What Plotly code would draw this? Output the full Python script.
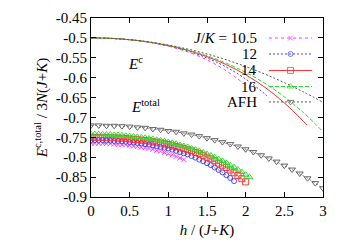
import plotly.graph_objects as go

# ---------------- data ----------------
SERIES = ["10.5", "12", "14", "16", "AFH"]

# E^c curves (lines)
EC_H = {
    "10.5": [0, 0.25, 0.5, 0.75, 1.0, 1.25, 1.5, 1.75, 1.95],
    "12":   [0, 0.25, 0.5, 0.75, 1.0, 1.25, 1.5, 1.75, 2.0, 2.25, 2.3],
    "14":   [0, 0.25, 0.5, 0.75, 1.0, 1.25, 1.5, 1.75, 2.0, 2.25, 2.5, 2.75, 2.79],
    "16":   [0, 0.25, 0.5, 0.75, 1.0, 1.25, 1.5, 1.75, 2.0, 2.25, 2.5, 2.75, 3.0],
    "AFH":  [0, 0.25, 0.5, 0.75, 1.0, 1.25, 1.5, 1.75, 2.0, 2.25, 2.5, 2.75, 3.0],
}
EC_E = {
    "10.5": [-0.5, -0.5011, -0.5047, -0.5111, -0.5209, -0.5353, -0.5554, -0.5827, -0.6110],
    "12":   [-0.5, -0.5011, -0.5046, -0.5107, -0.5200, -0.5329, -0.5504, -0.5735, -0.6034, -0.6414, -0.6501],
    "14":   [-0.5, -0.5011, -0.5046, -0.5105, -0.5193, -0.5313, -0.5471, -0.5673, -0.5928, -0.6244, -0.6633, -0.7105, -0.7189],
    "16":   [-0.5, -0.5011, -0.5046, -0.5104, -0.5189, -0.5304, -0.5451, -0.5637, -0.5866, -0.6146, -0.6482, -0.6884, -0.7360],
    "AFH":  [-0.5, -0.5011, -0.5045, -0.5101, -0.5180, -0.5281, -0.5405, -0.5551, -0.5720, -0.5911, -0.6125, -0.6361, -0.6620],
}

# E^total points (markers)
ET_H = {
    "10.5": [0, 0.05, 0.1, 0.15, 0.2, 0.25, 0.3, 0.35, 0.4, 0.45, 0.5, 0.55, 0.6, 0.65, 0.7,
             0.75, 0.8, 0.85, 0.9, 0.95, 1.0, 1.05, 1.1, 1.15, 1.2],
    "12":   [0, 0.05, 0.1, 0.15, 0.2, 0.25, 0.3, 0.35, 0.4, 0.45, 0.5, 0.55, 0.6, 0.65, 0.7,
             0.75, 0.8, 0.85, 0.9, 0.95, 1.0, 1.05, 1.1, 1.15, 1.2, 1.25, 1.3, 1.35, 1.4,
             1.45, 1.5, 1.55, 1.6, 1.65, 1.7, 1.75, 1.8, 1.85],
    "14":   [0, 0.05, 0.1, 0.15, 0.2, 0.25, 0.3, 0.35, 0.4, 0.45, 0.5, 0.55, 0.6, 0.65, 0.7,
             0.75, 0.8, 0.85, 0.9, 0.95, 1.0, 1.05, 1.1, 1.15, 1.2, 1.25, 1.3, 1.35, 1.4,
             1.45, 1.5, 1.55, 1.6, 1.65, 1.7, 1.75, 1.8, 1.85, 1.9, 1.95, 2.0],
    "16":   [0, 0.05, 0.1, 0.15, 0.2, 0.25, 0.3, 0.35, 0.4, 0.45, 0.5, 0.55, 0.6, 0.65, 0.7,
             0.75, 0.8, 0.85, 0.9, 0.95, 1.0, 1.05, 1.1, 1.15, 1.2, 1.25, 1.3, 1.35, 1.4,
             1.45, 1.5, 1.55, 1.6, 1.65, 1.7, 1.75, 1.8, 1.85, 1.9, 1.95, 2.0, 2.05],
    "AFH":  [0, 0.1, 0.2, 0.3, 0.4, 0.5, 0.6, 0.7, 0.8, 0.9, 1.0, 1.1, 1.2, 1.3, 1.4, 1.5,
             1.6, 1.7, 1.8, 1.9, 2.0, 2.1, 2.2, 2.3, 2.4, 2.5, 2.6, 2.7, 2.8, 2.9, 3.0],
}
ET_E = {
    "10.5": [-0.765, -0.765, -0.765, -0.765, -0.766, -0.766, -0.767, -0.768, -0.768, -0.769,
             -0.770, -0.772, -0.773, -0.775, -0.776, -0.778, -0.780, -0.783, -0.785, -0.788,
             -0.791, -0.794, -0.798, -0.802, -0.806],
    "12":   [-0.757, -0.757, -0.757, -0.757, -0.758, -0.758, -0.759, -0.759, -0.760, -0.761,
             -0.762, -0.763, -0.764, -0.765, -0.767, -0.768, -0.770, -0.772, -0.774, -0.776,
             -0.778, -0.781, -0.784, -0.787, -0.790, -0.793, -0.797, -0.801, -0.806, -0.810,
             -0.815, -0.820, -0.826, -0.832, -0.838, -0.845, -0.852, -0.860],
    "14":   [-0.750, -0.750, -0.750, -0.750, -0.751, -0.751, -0.751, -0.752, -0.752, -0.753,
             -0.754, -0.755, -0.756, -0.757, -0.758, -0.759, -0.761, -0.762, -0.764, -0.766,
             -0.768, -0.770, -0.773, -0.775, -0.778, -0.781, -0.784, -0.788, -0.791, -0.795,
             -0.800, -0.804, -0.809, -0.815, -0.820, -0.826, -0.832, -0.839, -0.846, -0.854,
             -0.862],
    "16":   [-0.742, -0.742, -0.742, -0.742, -0.743, -0.743, -0.744, -0.744, -0.745, -0.746,
             -0.747, -0.748, -0.749, -0.750, -0.751, -0.753, -0.754, -0.756, -0.758, -0.760,
             -0.762, -0.764, -0.766, -0.769, -0.772, -0.774, -0.778, -0.781, -0.784, -0.788,
             -0.792, -0.796, -0.800, -0.805, -0.809, -0.814, -0.820, -0.825, -0.831, -0.837,
             -0.844, -0.850],
    "AFH":  [-0.720, -0.720, -0.721, -0.721, -0.722, -0.723, -0.725, -0.726, -0.729, -0.731,
             -0.734, -0.736, -0.740, -0.743, -0.747, -0.752, -0.757, -0.762, -0.767, -0.773,
             -0.780, -0.787, -0.795, -0.803, -0.811, -0.821, -0.831, -0.841, -0.853, -0.865,
             -0.878],
}

LEGEND_LABELS = ["<i>J</i>/<i>K</i> = 10.5", "12", "14", "16", "AFH"]

X_TICKS = [0, 0.5, 1, 1.5, 2, 2.5, 3]
X_TICK_LABELS = ["0", "0.5", "1", "1.5", "2", "2.5", "3"]
Y_TICKS = [-0.9, -0.85, -0.8, -0.75, -0.7, -0.65, -0.6, -0.55, -0.5, -0.45]
Y_TICK_LABELS = ["-0.9", "-0.85", "-0.8", "-0.75", "-0.7", "-0.65", "-0.6", "-0.55", "-0.5", "-0.45"]

# ---------------- styles ----------------
FONT = "Liberation Serif, Times New Roman, serif"
FS = 15
STYLE = {
    "10.5": dict(color="#ff33ff", dash="dot", symbol="x-thin", size=5),
    "12":   dict(color="#3a3aff", dash="2px,2px", symbol="circle-open", size=5),
    "14":   dict(color="#ff2a2a", dash="solid", symbol="square-open", size=6),
    "16":   dict(color="#22dd22", dash="4px,2px", symbol="triangle-up-open", size=6),
    "AFH":  dict(color="#555555", dash="2px,2px", symbol="triangle-down-open", size=6),
}

fig = go.Figure()

for s in SERIES:
    st = STYLE[s]
    fig.add_trace(go.Scatter(
        x=EC_H[s], y=EC_E[s], mode="lines", showlegend=False,
        line=dict(color=st["color"], width=1, dash=st["dash"], shape="spline"),
    ))

for s in SERIES:
    st = STYLE[s]
    fig.add_trace(go.Scatter(
        x=ET_H[s], y=ET_E[s], mode="lines+markers", showlegend=False,
        line=dict(color=st["color"], width=0.7, dash=st["dash"]),
        marker=dict(symbol=st["symbol"], size=st["size"], color=st["color"],
                    line=dict(color=st["color"], width=0.9)),
    ))

# manual gnuplot-style key (text right-aligned, sample on the right)
KEY_TEXT_X = 0.724
KEY_X0, KEY_XM, KEY_X1 = 0.767, 0.86, 0.953
KEY_ROWS = [0.888, 0.799, 0.707, 0.617, 0.531]
annotations = []
for s, lab, ky in zip(SERIES, LEGEND_LABELS, KEY_ROWS):
    st = STYLE[s]
    fig.add_trace(go.Scatter(
        x=[KEY_X0, KEY_XM, KEY_X1], y=[ky, ky, ky], xaxis="x2", yaxis="y2",
        mode="lines+markers", showlegend=False, hoverinfo="skip",
        line=dict(color=st["color"], width=1, dash=st["dash"]),
        marker=dict(symbol=st["symbol"], size=[0, st["size"], 0], color=st["color"],
                    line=dict(color=st["color"], width=1)),
    ))
    annotations.append(dict(
        x=KEY_TEXT_X, y=ky, xref="paper", yref="paper", text=lab, showarrow=False,
        xanchor="right", yanchor="middle", font=dict(family=FONT, size=FS, color="black"),
    ))

annotations.append(dict(x=0.57, y=-0.562, xref="x", yref="y", text="<i>E</i><sup>c</sup>",
                        showarrow=False, xanchor="center", yanchor="middle",
                        font=dict(family=FONT, size=FS, color="black")))
annotations.append(dict(x=0.70, y=-0.672, xref="x", yref="y", text="<i>E</i><sup>total</sup>",
                        showarrow=False, xanchor="center", yanchor="middle",
                        font=dict(family=FONT, size=FS, color="black")))

axis_common = dict(showline=True, linecolor="black", linewidth=1, mirror="allticks",
                   ticks="inside", ticklen=5, tickcolor="black", tickwidth=1,
                   showgrid=False, zeroline=False, automargin=False,
                   tickfont=dict(family=FONT, size=FS, color="black"))

# the page body adds an 8px offset; the figure is sized to fill the rest of the window
fig.update_layout(
    width=341, height=237,
    margin=dict(l=83, r=26, t=10, b=48, autoexpand=False),
    paper_bgcolor="white", plot_bgcolor="white",
    showlegend=False,
    font=dict(family=FONT, size=FS, color="black"),
    xaxis=dict(range=[0, 3], tickvals=X_TICKS, ticktext=X_TICK_LABELS,
               title=dict(text="<i>h</i> / (<i>J</i>+<i>K</i>)", standoff=6,
                          font=dict(family=FONT, size=FS)),
               **axis_common),
    yaxis=dict(range=[-0.9, -0.45], tickvals=Y_TICKS, ticktext=Y_TICK_LABELS,
               title=dict(text="<i>E</i><sup>c,total</sup> / 3<i>N</i>(<i>J</i>+<i>K</i>)",
                          standoff=4, font=dict(family=FONT, size=FS)),
               **axis_common),
    xaxis2=dict(range=[0, 1], overlaying="x", visible=False, automargin=False),
    yaxis2=dict(range=[0, 1], overlaying="y", visible=False, automargin=False),
    annotations=annotations,
)

fig.write_html("out.html")
